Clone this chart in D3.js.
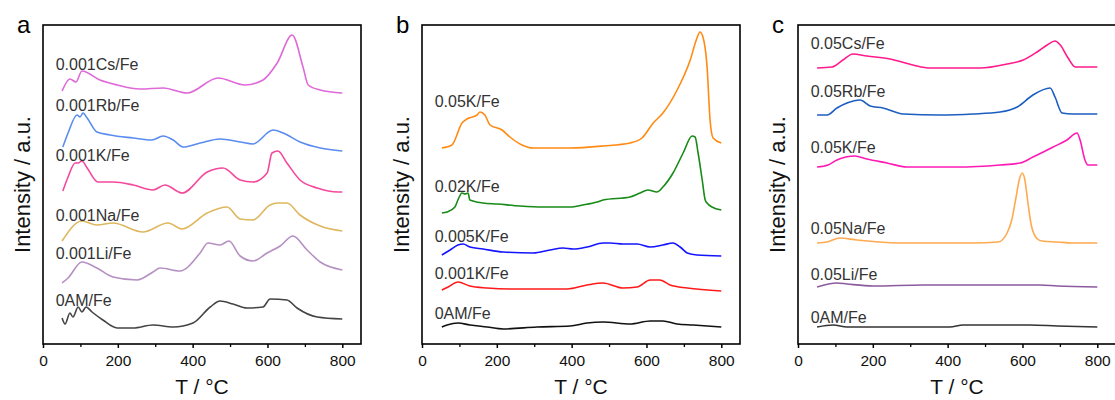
<!DOCTYPE html>
<html>
<head>
<meta charset="utf-8">
<script src="https://cdn.jsdelivr.net/npm/d3@7"></script>
<style>
  body { margin: 0; background: #fff; }
  text { font-family: "Liberation Sans", Arial, sans-serif; }
</style>
</head>
<body>
<script>
// Data: [T (°C), intensity (a.u.)]
var a_Cs = [[51,253],[72,265],[88,262],[104,273],[152,264],[198,259],[259,255],[321,256],[385,251],[468,266],[540,259],[588,264],[626,281],[666,309],[695,277],[709,259],[741,254],[800,251]];
var a_Rb = [[53,197],[67,211],[91,229],[99,227],[107,231],[118,226],[144,212],[179,209],[241,206],[291,204],[321,208],[348,204],[374,197],[420,201],[473,205],[527,202],[561,200],[615,214],[642,211],[687,202],[741,196],[800,193]];
var a_K = [[53,153],[67,167],[86,181],[94,181],[104,183],[118,176],[147,162],[187,162],[241,159],[294,154],[326,159],[372,151],[439,172],[481,176],[527,164],[561,162],[599,171],[612,191],[628,193],[652,181],[687,164],[733,156],[789,152],[800,152]];
var a_Na = [[51,103],[104,123],[144,119],[187,121],[267,112],[334,121],[372,115],[439,131],[492,137],[527,125],[561,124],[607,139],[626,141],[652,141],[687,129],[741,118],[800,113]];
var a_Li = [[51,61],[67,66],[104,82],[144,76],[187,67],[251,64],[294,72],[313,76],[366,73],[420,91],[441,101],[473,99],[497,103],[527,88],[561,83],[599,91],[634,98],[668,108],[706,94],[741,82],[800,74]];
var a_0AM = [[51,26],[59,20],[72,31],[80,27],[94,37],[104,32],[115,37],[131,32],[160,24],[198,16],[241,16],[294,19],[348,17],[401,21],[447,37],[473,43],[508,40],[545,36],[588,37],[607,45],[652,44],[679,36],[733,27],[800,25]];

var b_05K = [[53,196],[80,199],[107,221],[120,225],[147,229],[155,232],[168,229],[182,219],[214,214],[235,207],[267,199],[297,196],[396,196],[484,198],[556,201],[588,206],[618,221],[644,231],[682,254],[717,284],[735,306],[743,312],[751,307],[762,277],[770,224],[778,206],[800,201]];
var b_02K = [[53,131],[67,132],[88,137],[96,144],[107,151],[115,150],[123,151],[128,144],[163,141],[201,140],[262,138],[324,137],[396,137],[430,139],[468,142],[484,144],[556,147],[583,151],[604,154],[628,152],[644,157],[671,171],[698,191],[722,208],[730,207],[738,191],[749,164],[757,144],[762,141],[775,137],[800,134]];
var b_005K = [[53,89],[75,94],[96,99],[110,100],[128,97],[163,95],[217,92],[297,91],[342,94],[377,96],[404,95],[441,97],[484,101],[503,101],[537,100],[575,100],[610,97],[644,99],[671,101],[690,97],[709,91],[735,89],[800,88]];
var b_001K = [[53,54],[70,57],[96,62],[128,58],[174,56],[235,55],[307,55],[388,55],[441,59],[484,61],[537,56],[575,57],[610,64],[636,64],[663,59],[709,56],[800,53]];
var b_0AM = [[53,17],[67,19],[96,21],[128,19],[174,17],[217,15],[307,17],[396,18],[441,21],[484,22],[556,20],[610,23],[644,23],[682,20],[725,19],[800,17]];

var c_Cs = [[51,276],[91,277],[120,284],[147,290],[184,288],[246,285],[307,279],[353,276],[487,276],[559,280],[602,284],[639,292],[666,299],[687,303],[701,299],[722,286],[741,277],[800,277]];
var c_Rb = [[51,229],[78,229],[104,236],[131,241],[166,244],[193,238],[227,236],[281,230],[380,229],[468,230],[540,232],[586,237],[628,249],[674,256],[687,247],[706,231],[735,230],[800,230]];
var c_K = [[51,177],[80,179],[104,184],[152,188],[184,185],[238,181],[291,177],[425,177],[540,179],[594,181],[628,187],[682,197],[719,204],[746,211],[754,204],[767,184],[775,179],[800,179]];
var c_Na = [[51,101],[78,102],[112,106],[158,104],[265,101],[468,101],[535,102],[559,111],[572,125],[582,145],[592,165],[599,171],[606,165],[614,143],[624,118],[640,105],[652,103],[693,102],[735,101],[800,101]];
var c_Li = [[51,57],[104,61],[131,60],[201,58],[334,59],[468,59],[647,59],[693,58],[800,57]];
var c_0AM = [[51,17],[94,19],[131,17],[406,17],[441,19],[620,19],[693,18],[800,17]];

// Series names and label heights (a.u.)
var a_names = ["0.001Cs/Fe", "0.001Rb/Fe", "0.001K/Fe", "0.001Na/Fe", "0.001Li/Fe", "0AM/Fe"];
var a_labelY = [280, 239, 189, 129, 91, 44];
var b_names = ["0.05K/Fe", "0.02K/Fe", "0.005K/Fe", "0.001K/Fe", "0AM/Fe"];
var b_labelY = [243, 158, 108, 71, 31];
var c_names = ["0.05Cs/Fe", "0.05Rb/Fe", "0.05K/Fe", "0.05Na/Fe", "0.05Li/Fe", "0AM/Fe"];
var c_labelY = [301, 253, 197, 116, 70, 27];

var xTicks = [0, 200, 400, 600, 800];
var xMinor = [100, 300, 500, 700];

var panels = [
  { letter: "a", left: 43, names: a_names, labelY: a_labelY,
    series: [a_Cs, a_Rb, a_K, a_Na, a_Li, a_0AM],
    colors: ["#e068d8", "#5a8cf0", "#f5489c", "#dfb75e", "#b590c2", "#444444"] },
  { letter: "b", left: 422, names: b_names, labelY: b_labelY,
    series: [b_05K, b_02K, b_005K, b_001K, b_0AM],
    colors: ["#ff8a14", "#178a17", "#1414ff", "#ff1a1a", "#111111"] },
  { letter: "c", left: 798, names: c_names, labelY: c_labelY,
    series: [c_Cs, c_Rb, c_K, c_Na, c_Li, c_0AM],
    colors: ["#ff1a8c", "#1c5ec0", "#ff1ab4", "#ffaa50", "#8c5a9e", "#333333"] }
];

var svgWidth = 1115;
var svgHeight = 400;
var plotTop = 25, plotBottom = 344, panelWidth = 318;

var svg = d3.select("body")
  .append("svg")
  .attr("width", svgWidth)
  .attr("height", svgHeight);

panels.forEach(function(p) {
  var h = plotBottom - plotTop;
  var x = d3.scaleLinear().domain([0, 850]).range([0, panelWidth]);
  var y = d3.scaleLinear().domain([0, 319]).range([h, 0]);

  var g = svg.append("g")
    .attr("transform", `translate(${p.left}, ${plotTop})`);

  // curves
  var line = d3.line()
    .x(function(d) { return x(d[0]); })
    .y(function(d) { return y(d[1]); })
    .curve(d3.curveMonotoneX);

  p.series.forEach(function(s, i) {
    g.append("path")
      .datum(s)
      .attr("d", line)
      .attr("fill", "none")
      .attr("stroke", p.colors[i])
      .attr("stroke-width", 1.6)
      .attr("stroke-linejoin", "round");
  });

  // curve labels
  g.selectAll(".lbl")
    .data(p.names)
    .enter()
    .append("text")
    .attr("class", "lbl")
    .attr("x", x(34))
    .attr("y", function(d, i) { return y(p.labelY[i]); })
    .attr("dy", "0.35em")
    .attr("font-size", "16px")
    .attr("fill", "#333")
    .text(function(d) { return d; });

  // frame
  g.append("rect")
    .attr("width", panelWidth)
    .attr("height", h)
    .attr("fill", "none")
    .attr("stroke", "#000")
    .attr("stroke-width", 1.6);

  // minor ticks
  g.append("g")
    .attr("transform", `translate(0, ${h})`)
    .call(d3.axisBottom(x).tickValues(xMinor).tickSize(3).tickFormat(""))
    .call(function(ax) { ax.select(".domain").remove(); })
    .selectAll("line").attr("stroke-width", 1.3);

  // major ticks
  var ax = g.append("g")
    .attr("transform", `translate(0, ${h})`)
    .call(d3.axisBottom(x).tickValues(xTicks).tickSize(4).tickPadding(7));
  ax.select(".domain").remove();
  ax.selectAll("line").attr("stroke-width", 1.5);
  ax.selectAll("text")
    .attr("font-size", "15.5px")
    .attr("font-family", "Liberation Sans, Arial, sans-serif")
    .attr("fill", "#111");

  // x label
  g.append("text")
    .attr("x", panelWidth / 2)
    .attr("y", h + 50)
    .attr("text-anchor", "middle")
    .attr("font-size", "21px")
    .attr("fill", "#111")
    .text("T / \u00B0C");

  // y label
  g.append("text")
    .attr("transform", "rotate(-90)")
    .attr("x", -h / 2)
    .attr("y", -13)
    .attr("text-anchor", "middle")
    .attr("font-size", "22px")
    .attr("fill", "#111")
    .text("Intensity / a.u.");

  // panel letter
  g.append("text")
    .attr("x", -26)
    .attr("y", 8)
    .attr("font-size", "24px")
    .attr("fill", "#000")
    .text(p.letter);
});
</script>
</body>
</html>
